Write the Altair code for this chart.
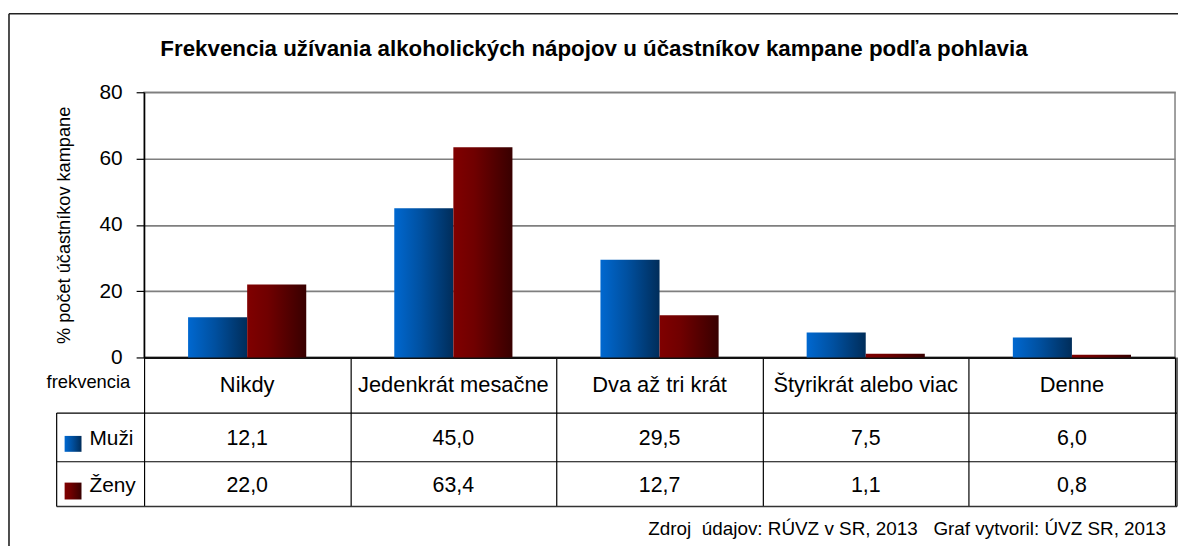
import altair as alt
import pandas as pd

categories = ["Nikdy", "Jedenkrát mesačne", "Dva až tri krát", "Štyrikrát alebo viac", "Denne"]
series = ["Muži", "Ženy"]
muzi = [12.1, 45.0, 29.5, 7.5, 6.0]
zeny = [22.0, 63.4, 12.7, 1.1, 0.8]
y_ticks = [0, 20, 40, 60, 80]

title_text = "Frekvencia užívania alkoholických nápojov u účastníkov kampane podľa pohlavia"
y_title = "% počet účastníkov kampane"
row_header = "frekvencia"
footer = "Zdroj\u00a0\u00a0údajov: RÚVZ v SR, 2013\u00a0\u00a0\u00a0Graf vytvoril: ÚVZ SR, 2013"

FONT = "Liberation Sans, Arial, Helvetica, sans-serif"
W, H = 1038, 267

rows = []
for s, vals in zip(series, [muzi, zeny]):
    for c, v in zip(categories, vals):
        rows.append({"cat": c, "sex": s, "value": v, "label": f"{v:.1f}".replace(".", ",")})
df = pd.DataFrame(rows)
cat_df = pd.DataFrame({"cat": categories})

grad_blue = alt.Gradient(gradient="linear",
                         stops=[alt.GradientStop(color="#0068D0", offset=0),
                                alt.GradientStop(color="#0050A0", offset=0.45),
                                alt.GradientStop(color="#002D5A", offset=1)],
                         x1=0, x2=1, y1=0, y2=0)
grad_red = alt.Gradient(gradient="linear",
                        stops=[alt.GradientStop(color="#800000", offset=0),
                               alt.GradientStop(color="#700000", offset=0.35),
                               alt.GradientStop(color="#380000", offset=1)],
                        x1=0, x2=1, y1=0, y2=0)

x_enc = alt.X("cat:N", sort=categories,
              scale=alt.Scale(paddingInner=0, paddingOuter=0),
              axis=alt.Axis(title=None, labels=False, tickBand="extent", tickSize=150,
                            tickColor="#000000", tickWidth=1.2, domainColor="#111111",
                            domainWidth=2.2, grid=False))
y_enc = alt.Y("value:Q", scale=alt.Scale(domain=[0, 80], nice=False),
              axis=alt.Axis(title=None, values=y_ticks, tickSize=8, tickColor="#000000",
                            domainColor="#000000", domainWidth=1.5, labelFont=FONT,
                            labelFontSize=21, labelColor="#000000", labelPadding=14,
                            gridColor="#7f7f7f", gridWidth=1.6, tickWidth=1.2))
xo_enc = alt.XOffset("sex:N", scale=alt.Scale(domain=series, paddingInner=0, paddingOuter=0.745))

base = alt.Chart(df)
bars_m = base.transform_filter(alt.datum.sex == "Muži").mark_bar(color=grad_blue).encode(
    x=x_enc, y=y_enc, xOffset=xo_enc)
bars_z = base.transform_filter(alt.datum.sex == "Ženy").mark_bar(color=grad_red).encode(
    x=x_enc, y=y_enc, xOffset=xo_enc)

def txt(**kw):
    return dict(font=FONT, color="#000000", **kw)

cat_labels = alt.Chart(cat_df).mark_text(**txt(fontSize=22, baseline="middle")).encode(
    x=alt.X("cat:N", sort=categories), y=alt.value(295), text="cat:N")
val_m = base.transform_filter(alt.datum.sex == "Muži").mark_text(**txt(fontSize=21.5, baseline="middle")).encode(
    x=alt.X("cat:N", sort=categories), y=alt.value(349), text="label:N")
val_z = base.transform_filter(alt.datum.sex == "Ženy").mark_text(**txt(fontSize=21.5, baseline="middle")).encode(
    x=alt.X("cat:N", sort=categories), y=alt.value(396), text="label:N")

one = pd.DataFrame({"k": [0]})

title_m = alt.Chart(one).mark_text(**txt(fontSize=22.5, fontWeight="bold", align="center", baseline="middle")).encode(
    x=alt.value(453), y=alt.value(-44), text=alt.value(title_text))
ytitle_m = alt.Chart(one).mark_text(**txt(fontSize=18.3, align="center", baseline="middle", angle=270)).encode(
    x=alt.value(-80), y=alt.value(134), text=alt.value(y_title))
rowhead_m = alt.Chart(one).mark_text(**txt(fontSize=18.5, align="center", baseline="middle")).encode(
    x=alt.value(-56), y=alt.value(292), text=alt.value(row_header))
footer_m = alt.Chart(one).mark_text(**txt(fontSize=19, align="right", baseline="middle")).encode(
    x=alt.value(1029), y=alt.value(440), text=alt.value(footer))
leg_m = alt.Chart(one).mark_text(**txt(fontSize=21, align="left", baseline="middle")).encode(
    x=alt.value(-55), y=alt.value(349), text=alt.value(series[0]))
leg_z = alt.Chart(one).mark_text(**txt(fontSize=21, align="left", baseline="middle")).encode(
    x=alt.value(-55), y=alt.value(396), text=alt.value(series[1]))
sw_m = alt.Chart(one).mark_rect(color=grad_blue).encode(
    x=alt.value(-80), x2=alt.value(-63), y=alt.value(346), y2=alt.value(362))
sw_z = alt.Chart(one).mark_rect(color=grad_red).encode(
    x=alt.value(-80), x2=alt.value(-63), y=alt.value(393), y2=alt.value(410))

def hline(y, x1, x2, color="#000000", w=1.2):
    return alt.Chart(one).mark_rule(color=color, strokeWidth=w).encode(
        x=alt.value(x1), x2=alt.value(x2), y=alt.value(y))
def vline(x, y1, y2, color="#000000", w=1.2):
    return alt.Chart(one).mark_rule(color=color, strokeWidth=w).encode(
        x=alt.value(x), y=alt.value(y1), y2=alt.value(y2))

lines = [
    hline(323, -88, 1040),
    hline(372, -88, 1040),
    hline(417, -88, 1040, color="#333333", w=1.5),
    vline(-88, 323, 417),
    vline(1040, 267, 417),
    hline(-79, -136, 1045, color="#222222", w=1.6),
    vline(-136, -79, 460, color="#222222", w=1.6),
]

chart = alt.layer(bars_m, bars_z, cat_labels, val_m, val_z, title_m, ytitle_m, rowhead_m,
                  footer_m, leg_m, leg_z, sw_m, sw_z, *lines).properties(
    width=W, height=H,
    autosize=alt.AutoSizeParams(type="none"),
    padding={"left": 137, "top": 83, "right": 3, "bottom": 188},
    background="#ffffff",
).configure_view(stroke="#888888", strokeWidth=1.6)

chart.save("out.html", embed_options={"renderer": "svg", "actions": False})
